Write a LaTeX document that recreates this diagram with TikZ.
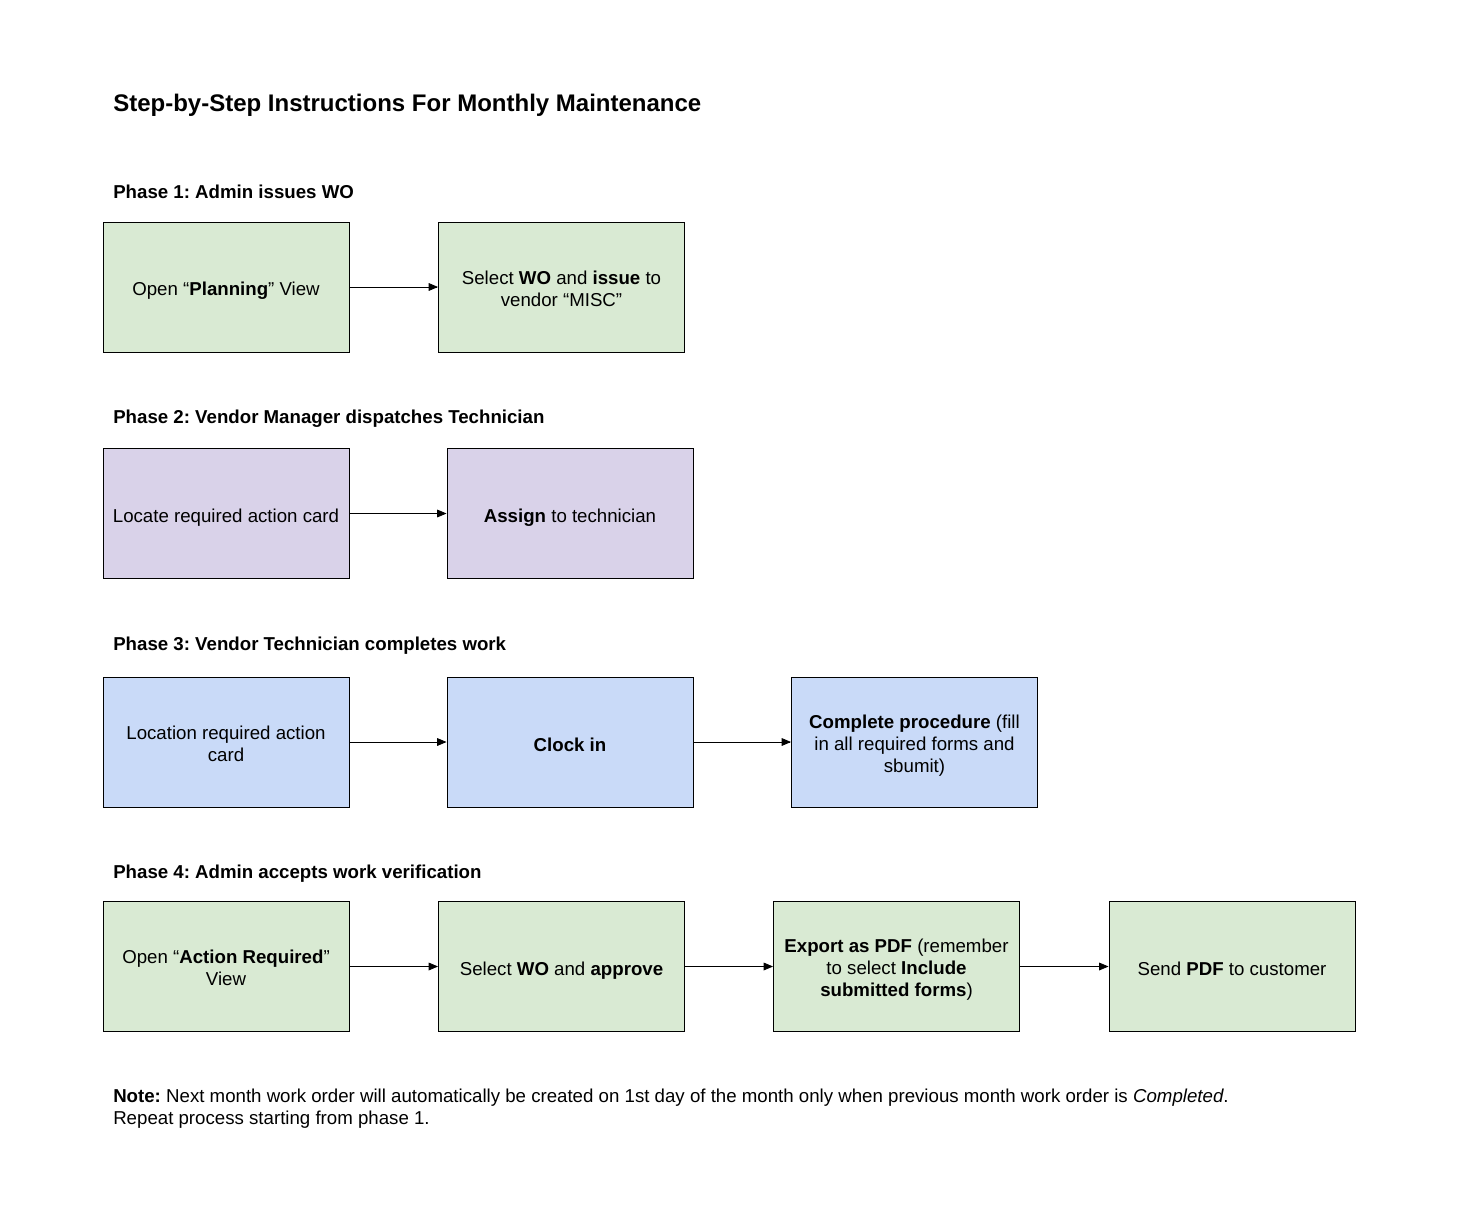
\documentclass[tikz,border=0pt]{standalone}
\usepackage{fontspec}
\setmainfont{Liberation Sans}
\usetikzlibrary{shapes,arrows}
\definecolor{phGreen}{HTML}{D9EAD3}
\definecolor{phPurple}{HTML}{D9D2E9}
\definecolor{phBlue}{HTML}{C9DAF8}
\frenchspacing

\begin{document}
\begin{tikzpicture}[x=0.75pt, y=-0.75pt]%
  \tikzset{normal arrow/.style={draw,-triangle 45,line width=0.6pt,black}}
  \tikzset{stepbox/.style={draw=black, line width=0.75pt, rectangle, minimum width=184.5pt, minimum height=97.5pt, inner sep=0pt, align=center, font=\fontsize{14}{16.5}\selectfont,
      execute at begin node={\rule[-2pt]{0pt}{18pt}}, execute at end node={\rule[-2pt]{0pt}{18pt}}}}
  \tikzset{two lines/.style={text height=31pt}, three lines/.style={text height=48pt}}
  \tikzset{phase/.style={anchor=base west, inner sep=0pt, font=\fontsize{14}{16.5}\selectfont\bfseries}}
  \useasboundingbox (0,0) rectangle (1459,1220);

  \node[anchor=base west, inner sep=0pt, font=\fontsize{18}{21}\selectfont\bfseries] at (113,112) (title) {Step-by-Step Instructions For Monthly Maintenance};

  % Phase 1
  \node[phase] at (113,198) (P1) {Phase 1: Admin issues WO};
  \node[stepbox, fill=phGreen] at (226,287) (planning) {Open “\textbf{Planning}” View};
  \node[stepbox, two lines, fill=phGreen] at (561.5,287) (issue) {Select \textbf{WO} and \textbf{issue} to\\vendor “MISC”};

  % Phase 2
  \node[phase] at (113,423) (P2) {Phase 2: Vendor Manager dispatches Technician};
  \node[stepbox, fill=phPurple] at (226,513.5) (locate) {Locate required action card};
  \node[stepbox, fill=phPurple] at (570,513.5) (assign) {\textbf{Assign} to technician};

  % Phase 3
  \node[phase] at (113,650) (P3) {Phase 3: Vendor Technician completes work};
  \node[stepbox, two lines, fill=phBlue] at (226,742) (location) {Location required action\\card};
  \node[stepbox, fill=phBlue] at (570,742) (clockin) {\textbf{Clock in}};
  \node[stepbox, three lines, fill=phBlue] at (914.5,742) (procedure) {\textbf{Complete procedure} (fill\\in all required forms and\\sbumit)};

  % Phase 4
  \node[phase] at (113,878) (P4) {Phase 4: Admin accepts work verification};
  \node[stepbox, two lines, fill=phGreen] at (226,966.5) (actionreq) {Open “\textbf{Action Required}”\\View};
  \node[stepbox, fill=phGreen] at (561.5,966.5) (approve) {Select \textbf{WO} and \textbf{approve}};
  \node[stepbox, three lines, fill=phGreen] at (896.5,966.5) (export) {\textbf{Export as PDF} (remember\\to select \textbf{Include}\\\textbf{submitted forms})};
  \node[stepbox, fill=phGreen] at (1232,966.5) (send) {Send \textbf{PDF} to customer};

  \node[anchor=base west, inner sep=0pt, align=left, font=\fontsize{14}{16.5}\selectfont] at (113,1124) (note) {\textbf{Note:} Next month work order will automatically be created on 1st day of the month only when previous month work order is \textit{Completed}.\\Repeat process starting from phase 1.};

  \path[normal arrow] (planning) -- (issue);
  \path[normal arrow] (locate) -- (assign);
  \path[normal arrow] (location) -- (clockin);
  \path[normal arrow] (clockin) -- (procedure);
  \path[normal arrow] (actionreq) -- (approve);
  \path[normal arrow] (approve) -- (export);
  \path[normal arrow] (export) -- (send);
\end{tikzpicture}
\end{document}
